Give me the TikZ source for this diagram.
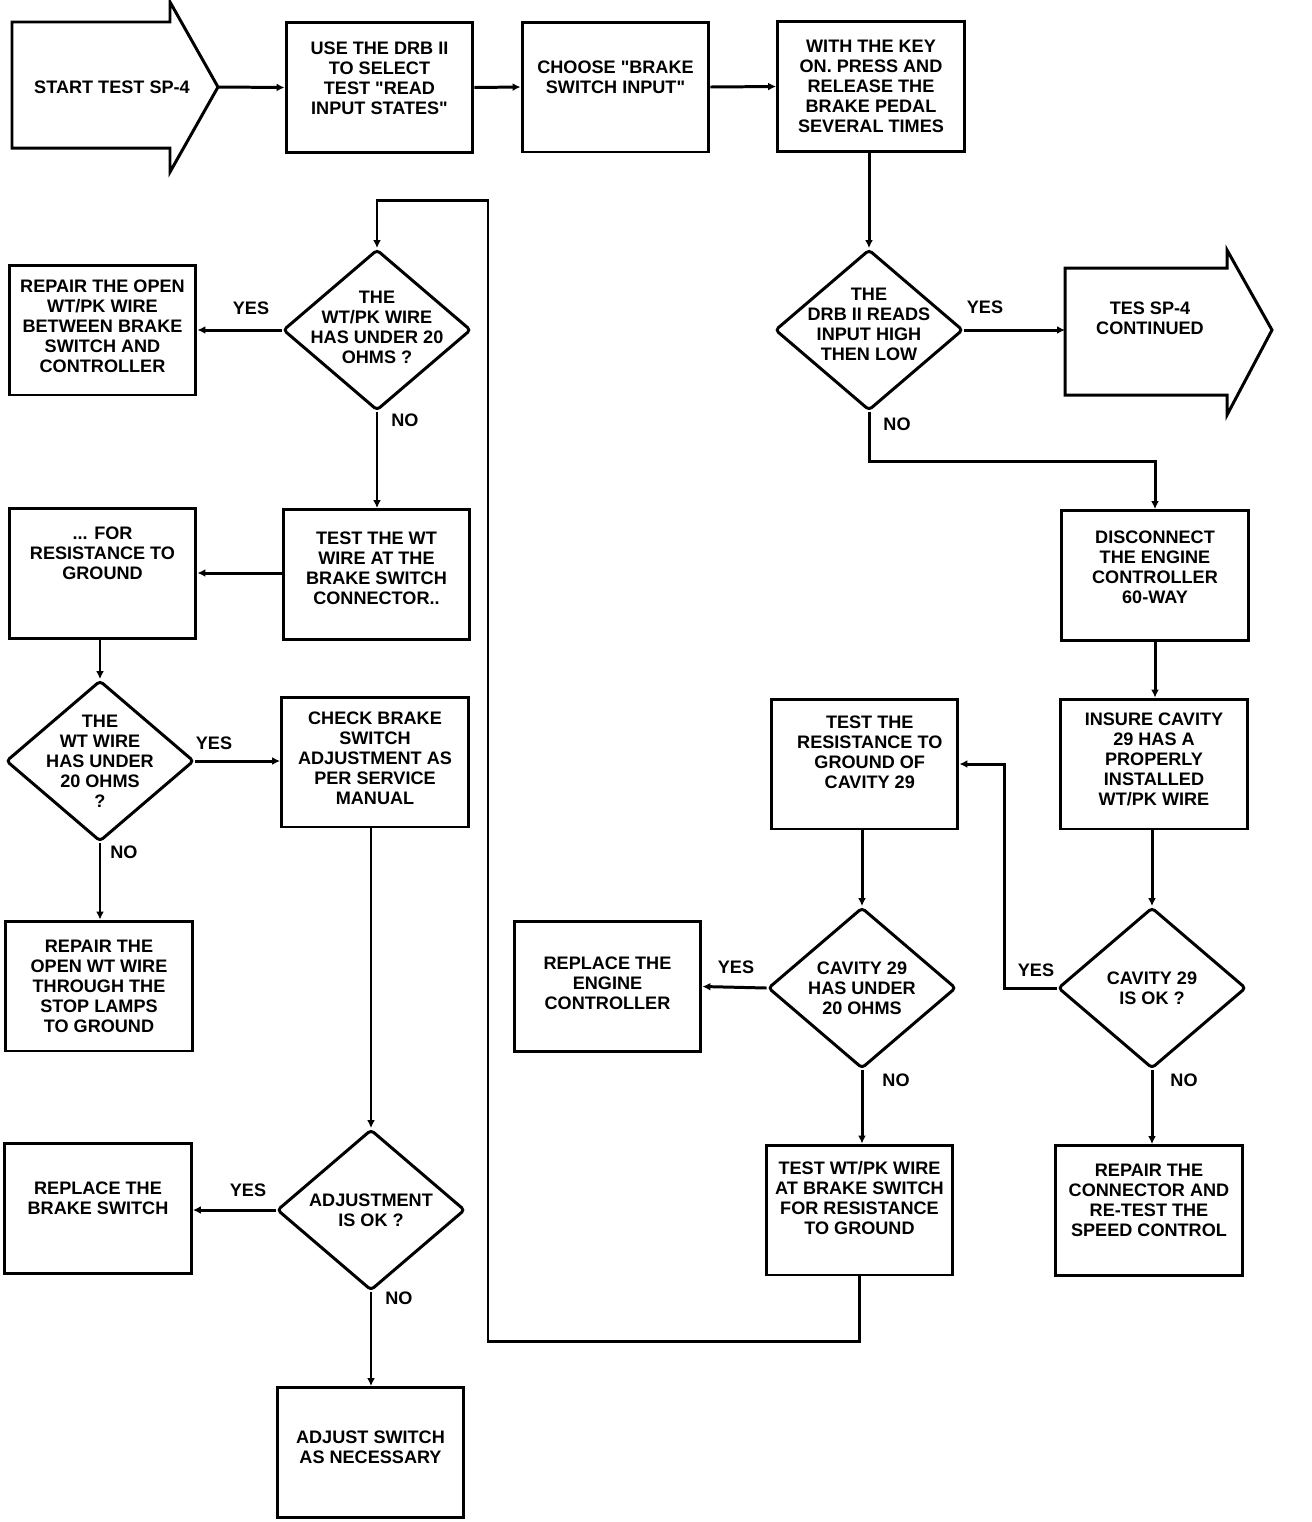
\documentclass[tikz,border=0pt]{standalone}
\usepackage{fontspec}
\setmainfont{Liberation Sans}[Ligatures=TeXOff]
\usetikzlibrary{shapes.geometric,arrows.meta}

\begin{document}
\begin{tikzpicture}[x=0.02cm,y=-0.02cm,line width=1.7pt,>={Latex[length=4.5pt,width=4.5pt]},
  txt/.style={font=\bfseries\fontsize{10.3}{11.4}\selectfont,align=center},
  box/.style={draw,rectangle,minimum width=3.74cm,minimum height=2.6cm,inner sep=0pt},
  decision/.style={draw,diamond,minimum width=3.76cm,minimum height=3.22cm,inner sep=0pt,rounded corners=2pt}]
  \useasboundingbox (0,0) rectangle (1312,1522);

  % top row
  \draw (12,22) -- (170,22) -- (170,2) -- (218,87) -- (170,172) -- (170,148) -- (12,148) -- cycle;
  \coordinate (start-tip) at (218,87);
  \node[txt] (start) at (112,87) {START TEST SP-4};
  \node[box,label={[txt,yshift=5pt]center:USE THE DRB II\\TO SELECT\\TEST "READ\\INPUT STATES"}] (use) at (379.5,87.5) {};
  \node[box,label={[txt,yshift=5.7pt]center:CHOOSE "BRAKE\\SWITCH INPUT"}] (choose) at (615.5,87) {};
  \node[box,label={[txt]center:WITH THE KEY\\ON. PRESS AND\\RELEASE THE\\BRAKE PEDAL\\SEVERAL TIMES}] (key) at (871,86.5) {};

  % right column
  \node[decision,label={[txt,yshift=3.4pt]center:THE\\DRB II READS\\INPUT HIGH\\THEN LOW}] (drb) at (869,330) {};
  \draw (1065,268) -- (1227,268) -- (1227,250) -- (1272,330) -- (1227,415) -- (1227,395) -- (1065,395) -- cycle;
  \coordinate (cont-in) at (1065,330);
  \node[txt] (cont) at (1150,318) {TES SP-4\\CONTINUED};
  \node[box,label={[txt,yshift=4.5pt]center:DISCONNECT\\THE ENGINE\\CONTROLLER\\60-WAY}] (disc) at (1155,575.5) {};
  \node[box,label={[txt,yshift=2.8pt]center:INSURE CAVITY\\29 HAS A\\PROPERLY\\INSTALLED\\WT/PK WIRE}] (insure) at (1154,764) {};
  \node[decision,label={[txt]center:CAVITY 29\\IS OK ?}] (cavok) at (1152,988) {};
  \node[box,label={[txt,yshift=5.7pt]center:REPAIR THE\\CONNECTOR AND\\RE-TEST THE\\SPEED CONTROL}] (repcon) at (1149,1210.5) {};
  \node[box,label={[txt,xshift=3pt,yshift=6.8pt]center:TEST THE\\RESISTANCE TO\\GROUND OF\\CAVITY 29}] (testres) at (864.5,764) {};
  \node[decision,label={[txt]center:CAVITY 29\\HAS UNDER\\20 OHMS}] (cavohm) at (862,988) {};
  \node[box,label={[txt,yshift=1.7pt]center:REPLACE THE\\ENGINE\\CONTROLLER}] (repeng) at (607.5,986.5) {};
  \node[box,label={[txt,yshift=6.8pt]center:TEST WT/PK WIRE\\AT BRAKE SWITCH\\FOR RESISTANCE\\TO GROUND}] (testwp) at (859.5,1210) {};

  % left columns
  \node[decision,label={[txt,yshift=1.7pt]center:THE\\WT/PK WIRE\\HAS UNDER 20\\OHMS ?}] (wpohm) at (377,330) {};
  \node[box,label={[txt,yshift=2.3pt]center:REPAIR THE OPEN\\WT/PK WIRE\\BETWEEN BRAKE\\SWITCH AND\\CONTROLLER}] (repwp) at (102.5,330) {};
  \node[box,label={[txt,yshift=3.4pt]center:TEST THE WT\\WIRE AT THE\\BRAKE SWITCH\\CONNECTOR..}] (testwt) at (376.5,574.5) {};
  \node[box,label={[txt,yshift=11.4pt]center:... FOR\\RESISTANCE TO\\GROUND}] (forres) at (102.5,573.5) {};
  \node[decision,label={[txt]center:THE\\WT WIRE\\HAS UNDER\\20 OHMS\\?}] (wtohm) at (100,761) {};
  \node[box,label={[txt,yshift=2.3pt]center:CHECK BRAKE\\SWITCH\\ADJUSTMENT AS\\PER SERVICE\\MANUAL}] (check) at (375,762) {};
  \node[box,label={[txt]center:REPAIR THE\\OPEN WT WIRE\\THROUGH THE\\STOP LAMPS\\TO GROUND}] (repwt) at (99,986) {};
  \node[decision,label={[txt]center:ADJUSTMENT\\IS OK ?}] (adjok) at (371,1210) {};
  \node[box,label={[txt,yshift=5.7pt]center:REPLACE THE\\BRAKE SWITCH}] (repbrk) at (98,1208.5) {};
  \node[box,label={[txt,yshift=2.8pt]center:ADJUST SWITCH\\AS NECESSARY}] (adjust) at (370.5,1452.5) {};

  % connectors
  \draw[->] (start-tip) -- (use.west);
  \draw[->] (use.east) -- (choose.west);
  \draw[->] (choose.east) -- (key.west);
  \draw[->] (key.south -| drb.north) -- (drb.north);
  \draw[->] (drb.east) -- (cont-in);
  \draw[->] (drb.south) -- ++(0,50) -| (disc.north);
  \draw[->] (disc.south) -- (insure.north -| disc.south);
  \draw[->] (insure.south -| cavok.north) -- (cavok.north);
  \draw[->] (cavok.west) -- ++(-52,0) |- (testres.east);
  \draw[->] (cavok.south) -- (repcon.north -| cavok.south);
  \draw[->] (testres.south -| cavohm.north) -- (cavohm.north);
  \draw[->] (cavohm.west) -- (repeng.east);
  \draw[->] (cavohm.south) -- (testwp.north -| cavohm.south);
  \coordinate (loop) at (488,200);
  \draw[->] (testwp.south) -- ++(0,65) -| (loop) -| (wpohm.north);
  \draw[->] (wpohm.west) -- (repwp.east);
  \draw[->] (wpohm.south) -- (testwt.north -| wpohm.south);
  \draw[->] (testwt.west |- 0,573) -- (forres.east |- 0,573);
  \draw[->] (forres.south -| wtohm.north) -- (wtohm.north);
  \draw[->] (wtohm.east) -- (check.west |- wtohm.east);
  \draw[->] (wtohm.south) -- (repwt.north -| wtohm.south);
  \draw[->] (check.south -| adjok.north) -- (adjok.north);
  \draw[->] (adjok.west) -- (repbrk.east |- adjok.west);
  \draw[->] (adjok.south) -- (adjust.north -| adjok.south);

  % answers
  \node[txt] (drb-yes) at (985,307) {YES};
  \node[txt] (drb-no) at (897,424) {NO};
  \node[txt] (wp-yes) at (251,308) {YES};
  \node[txt] (wp-no) at (405,420) {NO};
  \node[txt] (wt-yes) at (214,743) {YES};
  \node[txt] (wt-no) at (124,852) {NO};
  \node[txt] (adj-yes) at (248,1190) {YES};
  \node[txt] (adj-no) at (399,1298) {NO};
  \node[txt] (ohm-yes) at (736,967) {YES};
  \node[txt] (ohm-no) at (896,1080) {NO};
  \node[txt] (ok-yes) at (1036,970) {YES};
  \node[txt] (ok-no) at (1184,1080) {NO};
\end{tikzpicture}
\end{document}
